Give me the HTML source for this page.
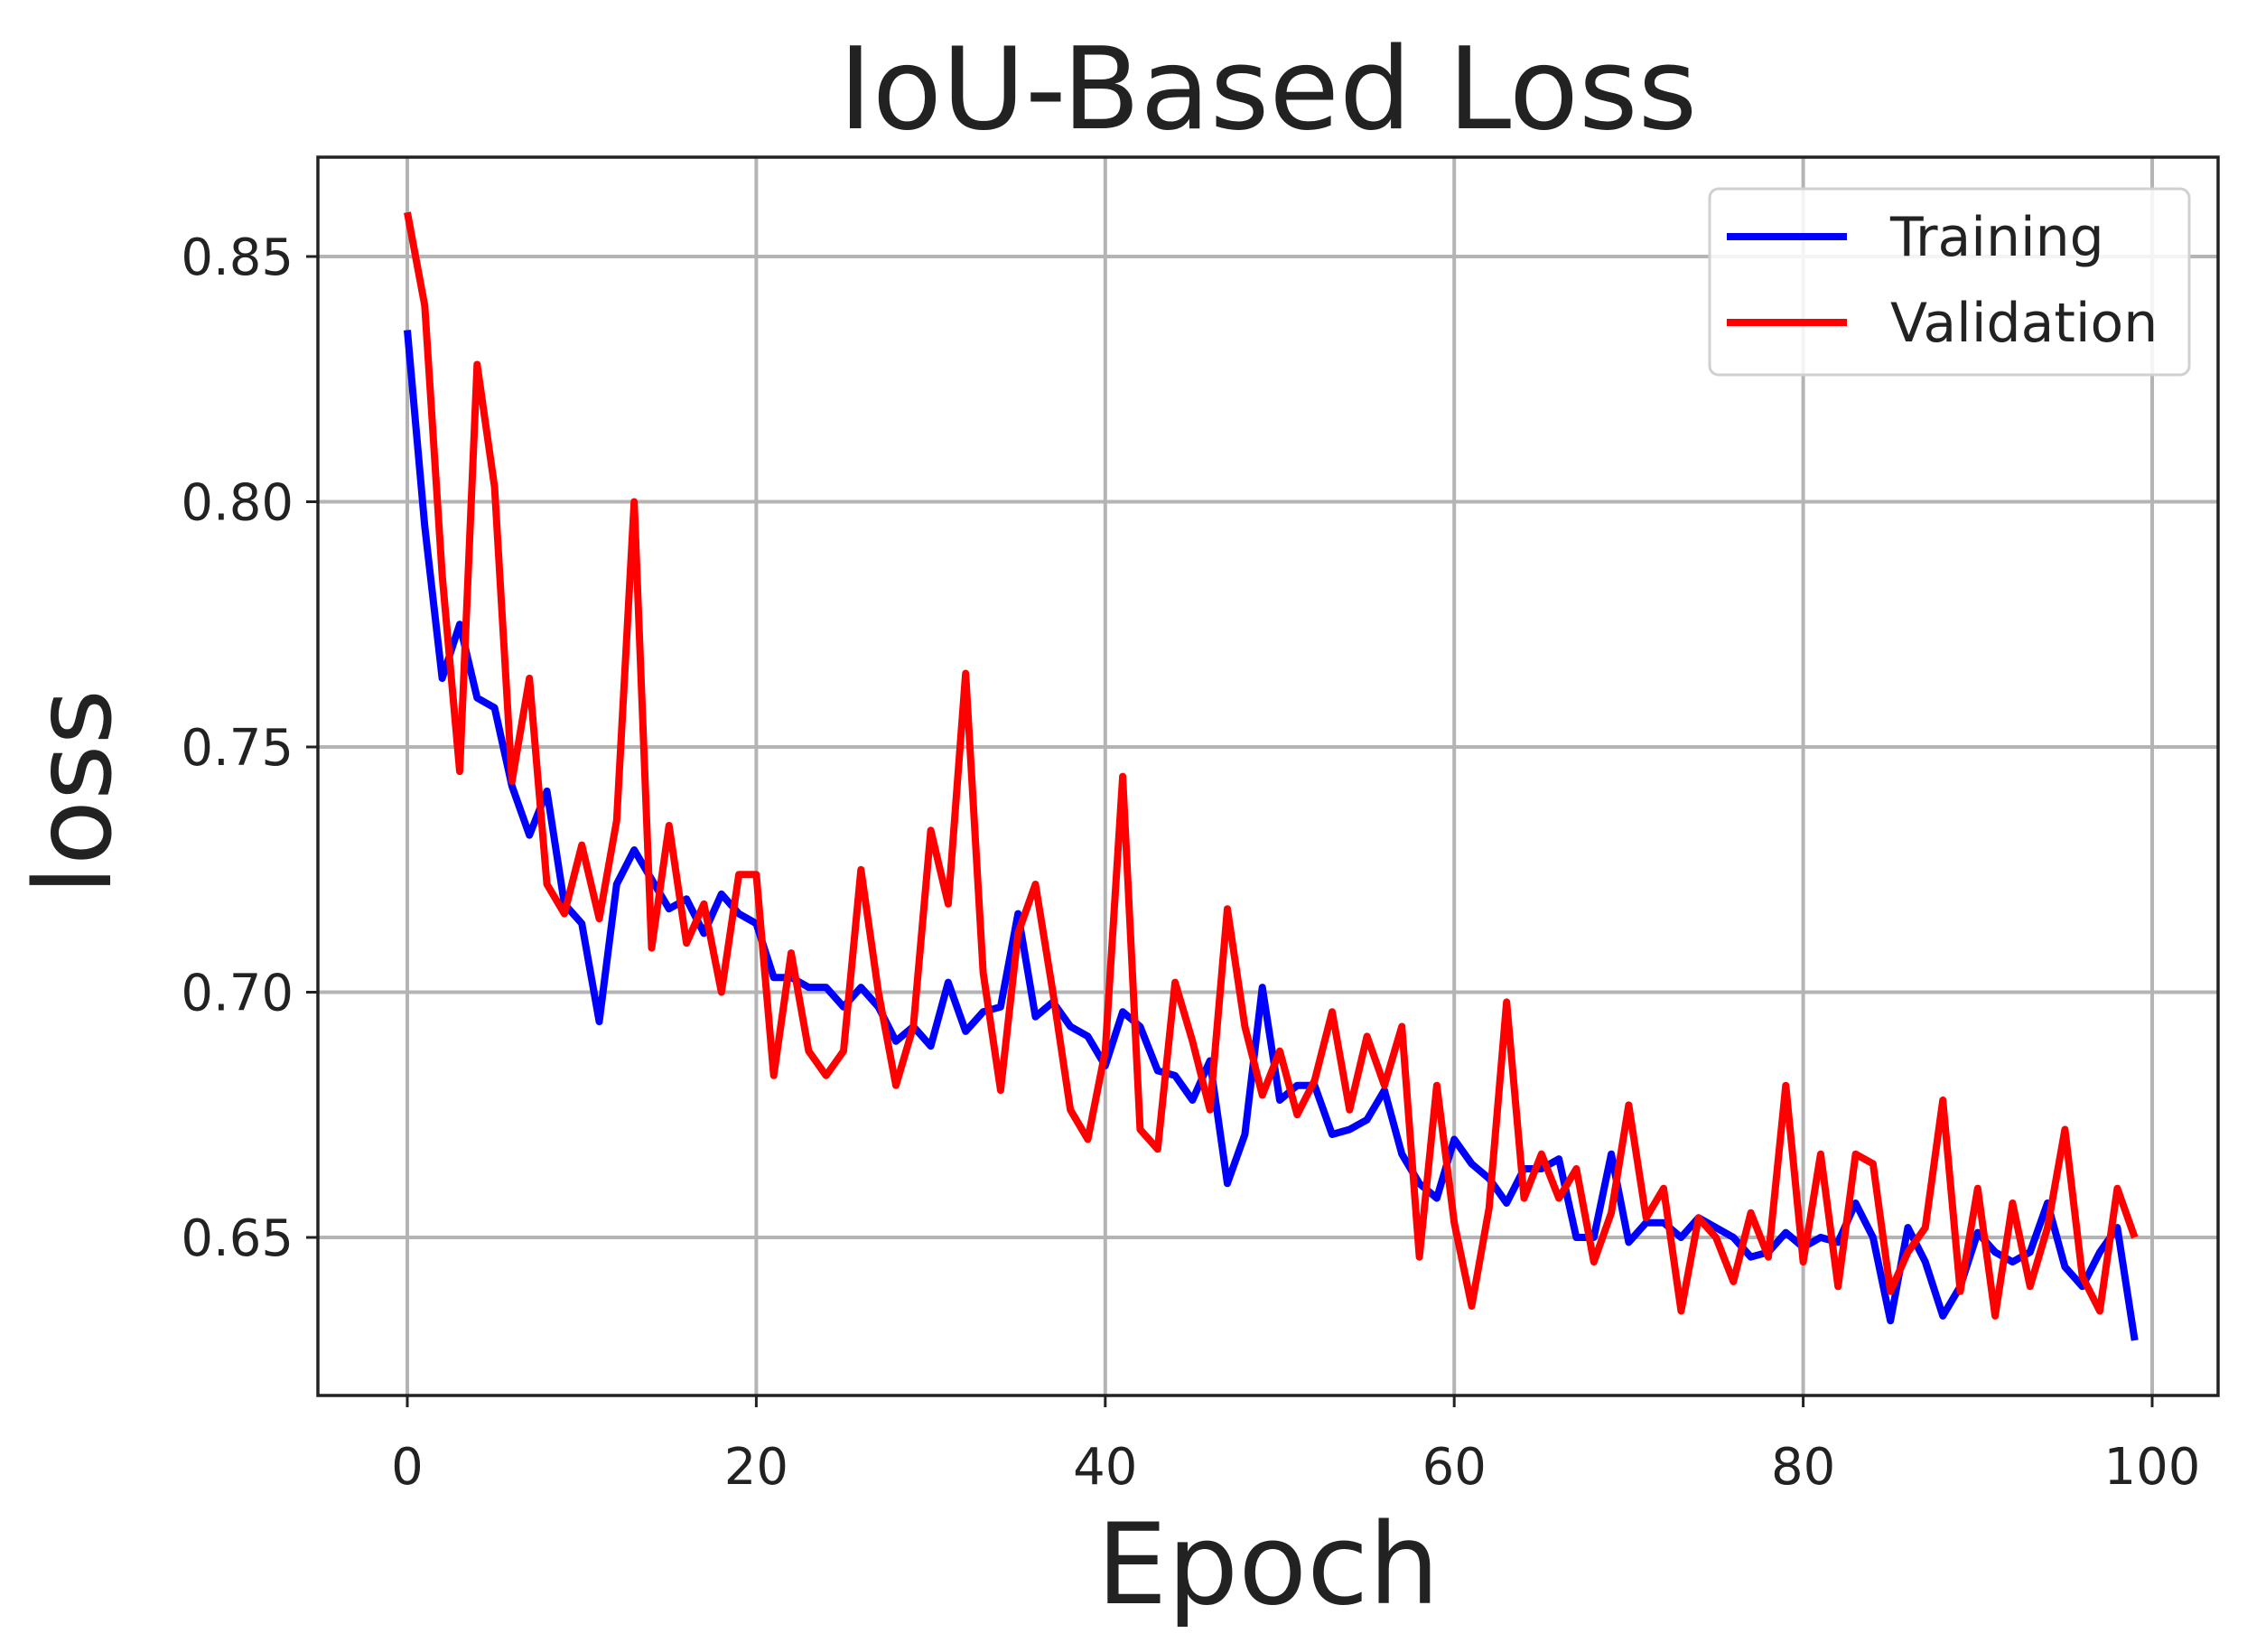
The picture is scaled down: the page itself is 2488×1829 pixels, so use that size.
<!DOCTYPE html>
<html><head><meta charset="utf-8"><style>
html,body{margin:0;padding:0;background:#fff;}
svg{display:block}
text{font-family:"DejaVu Sans","Liberation Sans",sans-serif;fill:#222}
</style></head><body>
<svg id="s" width="2488" height="1829" viewBox="0 0 2488 1829" xmlns="http://www.w3.org/2000/svg">
<rect width="2488" height="1829" fill="#fff"/>
<g id="grid" stroke="#b4b4b4" stroke-width="4"></g>
<g id="ticks"></g>
<path id="tr" fill="none" stroke="#0000ff" stroke-width="8" stroke-linejoin="round"/>
<path id="va" fill="none" stroke="#ff0000" stroke-width="8" stroke-linejoin="round"/>
<rect x="352" y="174" width="2104" height="1371" fill="none" stroke="#222" stroke-width="3.5"/>
<text x="1404" y="142" font-size="126" text-anchor="middle">IoU-Based Loss</text>
<text x="1404" y="1775" font-size="124" text-anchor="middle">Epoch</text>
<text transform="translate(122,877) rotate(-90)" font-size="118" text-anchor="middle">loss</text>
<rect x="1893" y="209" width="531" height="206" rx="10" fill="#fff" fill-opacity="0.85" stroke="#d0d0d0" stroke-width="3"/>
<line x1="1912" y1="262" x2="2045" y2="262" stroke="#0000ff" stroke-width="8"/>
<line x1="1912" y1="357" x2="2045" y2="357" stroke="#ff0000" stroke-width="8"/>
<text x="2093" y="283" font-size="60">Training</text>
<text x="2093" y="378" font-size="60">Validation</text>
</svg>
<script>
var T=[.835,.795,.764,.775,.760,.758,.742,.732,.741,.718,.714,.694,.722,.729,.723,.717,.719,.712,.720,.716,.714,.703,.703,.701,.701,.697,.701,.697,.690,.693,.689,.702,.692,.696,.697,.716,.695,.698,.693,.691,.685,.696,.693,.684,.683,.678,.686,.661,.671,.701,.678,.681,.681,.671,.672,.674,.680,.667,.661,.658,.670,.665,.662,.657,.664,.664,.666,.650,.650,.667,.649,.653,.653,.650,.654,.652,.650,.646,.647,.651,.648,.650,.649,.657,.650,.633,.652,.645,.634,.640,.651,.647,.645,.647,.657,.644,.640,.647,.652,.629];
var V=[.859,.840,.785,.745,.828,.803,.743,.764,.722,.716,.730,.715,.735,.800,.709,.734,.710,.718,.700,.724,.724,.683,.708,.688,.683,.688,.725,.700,.681,.693,.733,.718,.765,.704,.680,.712,.722,.700,.676,.670,.688,.744,.672,.668,.702,.690,.676,.717,.693,.679,.688,.675,.682,.696,.676,.691,.681,.693,.646,.681,.653,.636,.656,.698,.658,.667,.658,.664,.645,.655,.677,.654,.660,.635,.654,.650,.641,.655,.646,.681,.645,.667,.640,.667,.665,.639,.647,.652,.678,.639,.660,.634,.657,.640,.652,.672,.642,.635,.660,.650];
function X(i){return 451+i*19.32}
function Y(v){return 284+(0.85-v)/0.05*271.5}
function P(a){return a.map(function(v,i){return (i?'L':'M')+X(i).toFixed(1)+' '+Y(v).toFixed(1)}).join(' ')}
document.getElementById('tr').setAttribute('d',P(T));
document.getElementById('va').setAttribute('d',P(V));
var g=document.getElementById('grid'),tk=document.getElementById('ticks'),h='',t='';
for(var k=0;k<=100;k+=20){var x=X(k);h+='<line x1="'+x+'" y1="174" x2="'+x+'" y2="1545"/>';t+='<line x1="'+x+'" y1="1545" x2="'+x+'" y2="1558" stroke="#222" stroke-width="3"/><text x="'+x+'" y="1643" font-size="56" text-anchor="middle">'+k+'</text>';}
[0.85,0.80,0.75,0.70,0.65].forEach(function(v){var y=Y(v);h+='<line x1="352" y1="'+y+'" x2="2456" y2="'+y+'"/>';t+='<line x1="339" y1="'+y+'" x2="352" y2="'+y+'" stroke="#222" stroke-width="3"/><text x="325" y="'+(y+20)+'" font-size="56" text-anchor="end">'+v.toFixed(2)+'</text>';});
g.innerHTML=h;tk.innerHTML=t;
</script>
</body></html>
